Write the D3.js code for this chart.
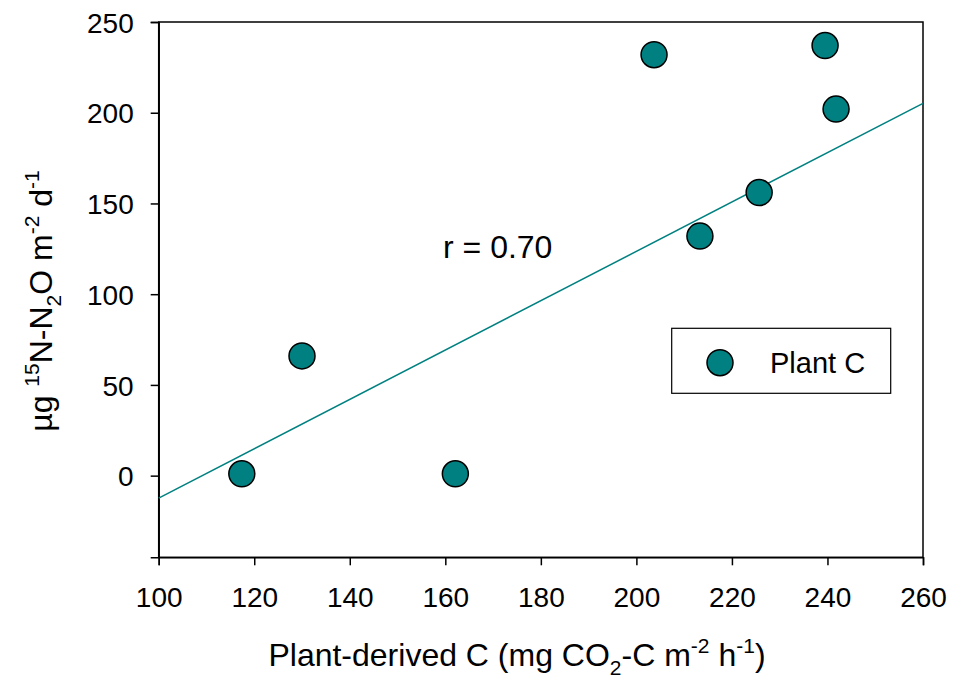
<!DOCTYPE html>
<html>
<head>
<meta charset="utf-8">
<title>Plant C vs 15N-N2O</title>
<style>
  body { margin: 0; background: #fff; }
  text { font-family: Arial, "Liberation Sans", sans-serif; fill: #000; }
</style>
</head>
<body>
<script src="https://cdn.jsdelivr.net/npm/d3@7"></script>
<script>
// data
var plantC = [117.4, 130.0, 162.1, 203.7, 213.3, 225.7, 239.5, 241.8];
var n2o    = [1, 66, 1, 232, 132, 156, 237, 202];
var xTicks = [100, 120, 140, 160, 180, 200, 220, 240, 260];
var yTicks = [0, 50, 100, 150, 200, 250];
// fitted line (intercept, slope) as drawn
var fitLine = [-148.4, 1.36];
var rLabel = "r = 0.70";
var seriesName = "Plant C";

var teal = "#008080";

var W = 954, H = 680;
var m = {left: 158.7, right: 954 - 923, top: 22, bottom: 680 - 557.3};

var svg = d3.select("body").append("svg")
  .attr("width", W).attr("height", H);

var x = d3.scaleLinear().domain([100, 260]).range([m.left, W - m.right]);
var y = d3.scaleLinear().domain([-45, 250]).range([H - m.bottom, m.top]);

// frame
svg.append("rect")
  .attr("x", x(100)).attr("y", y(250))
  .attr("width", x(260) - x(100)).attr("height", y(-45) - y(250))
  .attr("fill", "none").attr("stroke", "#000").attr("stroke-width", 1.5);

var xAxis = svg.append("g")
  .attr("transform", "translate(0," + y(-45) + ")")
  .call(d3.axisBottom(x).tickValues(xTicks).tickSize(8).tickPadding(21));
var yAxis = svg.append("g")
  .attr("transform", "translate(" + x(100) + ",0)")
  .call(d3.axisLeft(y).tickValues(yTicks).tickSize(8).tickPadding(17));

[xAxis, yAxis].forEach(function(g) {
  g.attr("font-size", null).attr("font-family", null);
  g.select(".domain").attr("stroke-width", 1.5);
  g.selectAll(".tick line").attr("stroke-width", 1.5);
  g.selectAll(".tick text").style("font-size", "28px");
});
xAxis.selectAll(".tick text").attr("dy", "0");
xAxis.selectAll(".tick text").attr("y", 606.7 - y(-45));
yAxis.selectAll(".tick text").attr("dy", "0.36em");

// regression line
svg.append("line")
  .attr("x1", x(100)).attr("y1", y(fitLine[0] + fitLine[1] * 100))
  .attr("x2", x(260)).attr("y2", y(fitLine[0] + fitLine[1] * 260))
  .attr("stroke", teal).attr("stroke-width", 1.5);

// points
svg.selectAll("circle.pt")
  .data(d3.zip(plantC, n2o))
  .enter().append("circle")
  .attr("class", "pt")
  .attr("cx", function(d) { return x(d[0]); })
  .attr("cy", function(d) { return y(d[1]); })
  .attr("r", 13)
  .attr("fill", teal).attr("stroke", "#000").attr("stroke-width", 1.5);

svg.append("text")
  .attr("x", 443).attr("y", 258)
  .style("font-size", "32px")
  .text(rLabel);

// legend
var lg = svg.append("g");
lg.append("rect")
  .attr("x", 671.7).attr("y", 328.3).attr("width", 219).attr("height", 65)
  .attr("fill", "#fff").attr("stroke", "#000").attr("stroke-width", 1.2);
lg.append("circle")
  .attr("cx", 720).attr("cy", 362.7).attr("r", 13)
  .attr("fill", teal).attr("stroke", "#000").attr("stroke-width", 1.5);
lg.append("text")
  .attr("x", 770).attr("y", 373)
  .style("font-size", "29px")
  .text(seriesName);

// axis titles
var xt = svg.append("text")
  .attr("x", 517).attr("y", 666)
  .attr("text-anchor", "middle")
  .style("font-size", "32px");
xt.append("tspan").text("Plant-derived C (mg CO");
xt.append("tspan").attr("dy", 9).style("font-size", "21px").text("2");
xt.append("tspan").attr("dy", -9).text("-C m");
xt.append("tspan").attr("dy", -13).style("font-size", "21px").text("-2");
xt.append("tspan").attr("dy", 13).text(" h");
xt.append("tspan").attr("dy", -13).style("font-size", "21px").text("-1");
xt.append("tspan").attr("dy", 13).text(")");

var yt = svg.append("text")
  .attr("transform", "translate(52,301) rotate(-90)")
  .attr("text-anchor", "middle")
  .style("font-size", "32px");
yt.append("tspan").text("µg  ");
yt.append("tspan").attr("dy", -13).style("font-size", "21px").text("15");
yt.append("tspan").attr("dy", 13).text("N-N");
yt.append("tspan").attr("dy", 9).style("font-size", "21px").text("2");
yt.append("tspan").attr("dy", -9).text("O m");
yt.append("tspan").attr("dy", -13).style("font-size", "21px").text("-2");
yt.append("tspan").attr("dy", 13).text(" d");
yt.append("tspan").attr("dy", -13).style("font-size", "21px").text("-1");
</script>
</body>
</html>
